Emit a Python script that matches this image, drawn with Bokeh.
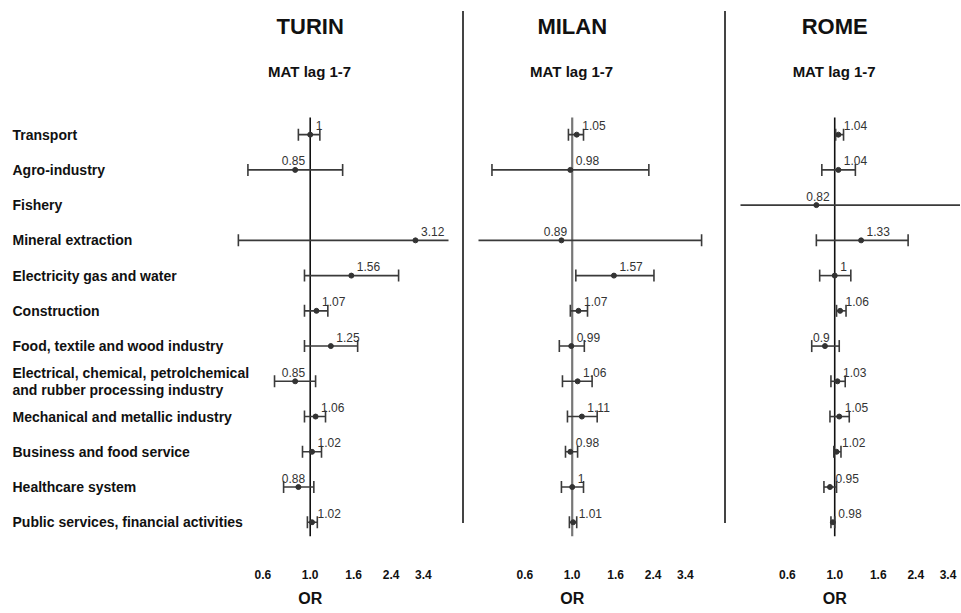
import math
from bokeh.plotting import figure
from bokeh.models import Range1d, FixedTicker, CustomJSTickFormatter, ColumnDataSource, Title, Div
from bokeh.layouts import row
from bokeh.core.properties import value
from bokeh.embed import file_html
from bokeh.resources import INLINE

# ---------------- data ----------------
CATEGORIES = [
    "Transport",
    "Agro-industry",
    "Fishery",
    "Mineral extraction",
    "Electricity gas and water",
    "Construction",
    "Food, textile and wood industry",
    "Electrical, chemical, petrolchemical\nand rubber processing industry",
    "Mechanical and metallic industry",
    "Business and food service",
    "Healthcare system",
    "Public services, financial activities",
]
CITIES = ["TURIN", "MILAN", "ROME"]
SUBTITLE = "MAT lag 1-7"
X_LABEL = "OR"
TICK_VALUES = [0.6, 1.0, 1.6, 2.4, 3.4]
TICK_LABELS = ["0.6", "1.0", "1.6", "2.4", "3.4"]
REF_OR = 1.0

TURIN_OR = [1.00, 0.85, None, 3.12, 1.56, 1.07, 1.25, 0.85, 1.06, 1.02, 0.88, 1.02]
TURIN_LO = [0.88, 0.51, None, 0.46, 0.94, 0.94, 0.94, 0.68, 0.94, 0.92, 0.75, 0.97]
TURIN_HI = [1.11, 1.42, None, 7.50, 2.60, 1.21, 1.67, 1.06, 1.18, 1.13, 1.04, 1.08]

MILAN_OR = [1.05, 0.98, None, 0.89, 1.57, 1.07, 0.99, 1.06, 1.11, 0.98, 1.00, 1.01]
MILAN_LO = [0.96, 0.42, None, 0.20, 1.04, 0.98, 0.87, 0.90, 0.95, 0.93, 0.89, 0.97]
MILAN_HI = [1.13, 2.29, None, 4.05, 2.42, 1.18, 1.14, 1.24, 1.31, 1.06, 1.13, 1.05]

ROME_OR = [1.04, 1.04, 0.82, 1.33, 1.00, 1.06, 0.90, 1.03, 1.05, 1.02, 0.95, 0.98]
ROME_LO = [1.01, 0.87, 0.20, 0.82, 0.85, 1.02, 0.78, 0.96, 0.95, 0.99, 0.89, 0.96]
ROME_HI = [1.10, 1.25, 6.00, 2.21, 1.19, 1.13, 1.05, 1.12, 1.17, 1.07, 1.02, 1.00]

# ---------------- style / layout ----------------
FONT = "Liberation Sans"
H = 612
TOP = 100
BOTTOM = 74
Y_TOP = -0.969
Y_BOTTOM = 11.404
REF_LINE_TOP = -0.49
LEFT_LABEL_LIMIT = 0.92

# Arial/Liberation Sans Bold advance widths (per 1000 em), used to centre titles on OR = 1
BOLD_W = {"T": 611, "U": 722, "R": 722, "I": 278, "N": 722, "M": 833, "L": 611,
          "A": 722, "O": 778, "E": 667, " ": 278, "l": 278, "a": 556, "g": 611,
          "1": 556, "-": 333, "7": 556}


def text_w(s, size):
    return sum(BOLD_W.get(c, 600) for c in s) * size / 1000.0


y_range = Range1d(start=Y_BOTTOM, end=Y_TOP)
n = len(CATEGORIES)


def panel(city, ors, los, his, width, bl, br, xlo, xhi, ref_color, ref_width, with_labels=False):
    p = figure(width=width, height=H, x_axis_type="log",
               x_range=Range1d(xlo, xhi), y_range=y_range,
               output_backend="svg", toolbar_location=None,
               min_border_left=bl, min_border_right=br,
               min_border_top=TOP, min_border_bottom=BOTTOM,
               y_axis_location=None, outline_line_color=None)
    p.grid.visible = False
    fw = width - bl - br
    ref_px = fw * (math.log(REF_OR) - math.log(xlo)) / (math.log(xhi) - math.log(xlo))

    if with_labels:
        p.text(x=[xlo] * n, y=list(range(n)), text=CATEGORIES, text_font=value(FONT),
               text_font_style="bold", text_font_size="14px", text_baseline="middle",
               text_align="left", x_offset=12, text_color="#111111", text_line_height=1.1)

    idx = [i for i in range(n) if ors[i] is not None]
    src = ColumnDataSource(dict(
        y=idx, est=[ors[i] for i in idx], lo=[los[i] for i in idx], hi=[his[i] for i in idx]))

    p.segment(x0=[REF_OR], y0=[REF_LINE_TOP], x1=[REF_OR], y1=[Y_BOTTOM],
              line_color=ref_color, line_width=ref_width)
    p.segment(x0="lo", y0="y", x1="hi", y1="y", line_color="#3a3a3a", line_width=1.6, source=src)
    for col in ("lo", "hi"):
        p.scatter(x=col, y="y", marker="dash", angle=math.pi / 2, size=12,
                  line_color="#3a3a3a", line_width=1.6, source=src)
    p.scatter(x="est", y="y", marker="circle", size=5, fill_color="#333333",
              line_color="#333333", source=src)

    right_idx = [i for i in idx if ors[i] >= LEFT_LABEL_LIMIT]
    left_idx = [i for i in idx if ors[i] < LEFT_LABEL_LIMIT]
    p.text(x=[ors[i] for i in right_idx], y=right_idx,
           text=[f"{ors[i]:g}" for i in right_idx], text_font=value(FONT),
           text_font_size="12px", text_color="#333333", text_align="left",
           text_baseline="alphabetic", x_offset=5.5, y_offset=-9)
    p.text(x=[REF_OR] * len(left_idx), y=left_idx,
           text=[f"{ors[i]:g}" for i in left_idx], text_font=value(FONT),
           text_font_size="12px", text_color="#333333", text_align="right",
           text_baseline="alphabetic", x_offset=-5, y_offset=-9)

    ax = p.xaxis[0]
    ax.ticker = FixedTicker(ticks=TICK_VALUES)
    ax.formatter = CustomJSTickFormatter(
        args=dict(vals=TICK_VALUES, labs=TICK_LABELS),
        code="const i = vals.findIndex(v => Math.abs(v - tick) < 1e-6); return i >= 0 ? labs[i] : '';")
    ax.axis_line_color = None
    ax.major_tick_line_color = None
    ax.minor_tick_line_color = None
    ax.major_tick_out = 0
    ax.major_label_standoff = 33
    ax.major_label_text_font = FONT
    ax.major_label_text_font_style = "bold"
    ax.major_label_text_font_size = "12px"
    ax.major_label_text_color = "#111111"

    p.add_layout(Title(text=SUBTITLE, align="left", offset=ref_px - text_w(SUBTITLE, 15) / 2,
                       text_font=FONT, text_font_style="bold", text_font_size="15px",
                       text_color="#111111", standoff=42), "above")
    p.add_layout(Title(text=city, align="left", offset=ref_px - text_w(city, 22) / 2,
                       text_font=FONT, text_font_style="bold", text_font_size="22px",
                       text_color="#111111", standoff=2, text_line_height=0.8), "above")
    p.add_layout(Title(text=X_LABEL, align="left", offset=ref_px - text_w(X_LABEL, 16) / 2,
                       text_font=FONT, text_font_style="bold", text_font_size="16px",
                       text_color="#111111", standoff=12), "below")
    return p


turin = panel(CITIES[0], TURIN_OR, TURIN_LO, TURIN_HI, 462, 0, 14,
              math.exp(-3.348), math.exp(1.495), "#111111", 1.6, with_labels=True)
milan = panel(CITIES[1], MILAN_OR, MILAN_LO, MILAN_HI, 260, 14, 14,
              math.exp(-1.013), math.exp(1.495), "#777777", 2.2)
rome = panel(CITIES[2], ROME_OR, ROME_LO, ROME_HI, 234, 14, 0,
             math.exp(-1.018), math.exp(1.359), "#111111", 1.6)

sep1 = Div(text="", width=2, height=512, margin=(11, 0, 0, 0),
           styles={"background-color": "#444444"})
sep2 = Div(text="", width=2, height=512, margin=(11, 0, 0, 0),
           styles={"background-color": "#444444"})

layout = row(turin, sep1, milan, sep2, rome, spacing=0)

open("out.html", "w").write(file_html(layout, INLINE))
